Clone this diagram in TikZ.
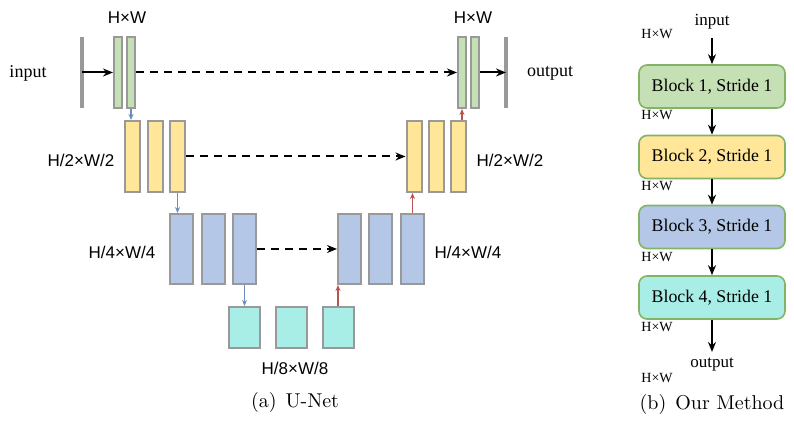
\documentclass[tikz,border=0pt]{standalone}
\usepackage{fontspec}
\newfontfamily\arialfont{Liberation Sans}
\newfontfamily\timesfont{Liberation Serif}
\usetikzlibrary{arrows.meta}
\definecolor{greenfill}{HTML}{C5E0B4}
\definecolor{yellowfill}{HTML}{FFE699}
\definecolor{bluefill}{HTML}{B4C7E7}
\definecolor{cyanfill}{HTML}{A9EEE6}
\definecolor{boxgray}{HTML}{999999}
\definecolor{blockgreen}{HTML}{82B366}
\definecolor{downblue}{HTML}{6C8EBF}
\definecolor{upred}{HTML}{B85450}
\tikzset{
	box/.style={draw=boxgray, line width=1pt, inner sep=0pt},
	gbox/.style={box, fill=greenfill, minimum width=4pt, minimum height=35.5pt},
	ybox/.style={box, fill=yellowfill, minimum width=7.5pt, minimum height=35.5pt},
	bbox/.style={box, fill=bluefill, minimum width=11.5pt, minimum height=35pt},
	cbox/.style={box, fill=cyanfill, minimum width=15.5pt, minimum height=20.5pt},
	block/.style={draw=blockgreen, line width=0.8pt, rounded corners=4pt, minimum width=73pt, minimum height=21.5pt, inner sep=0pt, font=\timesfont\fontsize{8.9}{11}\selectfont},
	bar/.style={line width=1.6pt, draw=boxgray},
	sizelbl/.style={font=\arialfont\fontsize{8.5}{10}\selectfont},
	smalllbl/.style={font=\timesfont\fontsize{7}{8}\selectfont},
	iolbl/.style={font=\timesfont\fontsize{9}{10}\selectfont},
	mainarrow/.style={line width=1pt, -{Stealth[length=5pt, width=4pt]}},
	skiparrow/.style={line width=1pt, dash pattern=on 4pt off 3pt, -{Stealth[length=5pt, width=4pt]}},
	downarrow/.style={line width=0.8pt, draw=downblue, -{Stealth[length=3pt, width=2.5pt]}},
	uparrow/.style={line width=0.8pt, draw=upred, -{Stealth[length=3pt, width=2.5pt]}}
}

\begin{document}
\begin{tikzpicture}[x=0.5pt, y=-0.5pt]
			%%%%% START %%%%%
			\useasboundingbox (0, 0) rectangle (794, 421);
			
			% (a) U-Net, encoder
			\draw[bar] (82, 37) -- (82, 108);
			\coordinate (inbar) at (82, 72.5);
			\node[iolbl] (inlbl) at (28, 73) {input};
			\node[gbox] (g1) at (118, 72.5) {};
			\node[gbox] (g2) at (131, 72.5) {};
			\node[sizelbl] (s1) at (127, 18) {H×W};
			
			\node[ybox] (ly1) at (132.5, 156.5) {};
			\node[ybox] (ly2) at (155.5, 156.5) {};
			\node[ybox] (ly3) at (177.5, 156.5) {};
			\node[sizelbl] (s2) at (81, 160) {H/2×W/2};
			
			\node[bbox] (lb1) at (181.5, 249) {};
			\node[bbox] (lb2) at (213, 249) {};
			\node[bbox] (lb3) at (244.5, 249) {};
			\node[sizelbl] (s3) at (122, 252) {H/4×W/4};
			
			\node[cbox] (c1) at (244.5, 327.5) {};
			\node[cbox] (c2) at (291.5, 327.5) {};
			\node[cbox] (c3) at (338, 327.5) {};
			\node[sizelbl] (s4) at (295, 368) {H/8×W/8};
			
			% (a) U-Net, decoder
			\node[bbox] (rb1) at (349.5, 249) {};
			\node[bbox] (rb2) at (380.5, 249) {};
			\node[bbox] (rb3) at (412.5, 249) {};
			\node[sizelbl] (s5) at (468, 252) {H/4×W/4};
			
			\node[ybox] (ry1) at (414, 156.5) {};
			\node[ybox] (ry2) at (436, 156.5) {};
			\node[ybox] (ry3) at (458.5, 156.5) {};
			\node[sizelbl] (s6) at (510, 160) {H/2×W/2};
			
			\node[gbox] (rg1) at (462, 72.5) {};
			\node[gbox] (rg2) at (475, 72.5) {};
			\node[sizelbl] (s7) at (473, 18) {H×W};
			\draw[bar] (506, 37) -- (506, 108);
			\coordinate (outbar) at (506, 72.5);
			\node[iolbl] (outlbl) at (550, 73) {output};
			
			% connections
			\draw[mainarrow] (inbar) -- (g1.west);
			\draw[mainarrow] (rg2.east) -- (outbar);
			\draw[skiparrow] (g2.east) -- (rg1.west);
			\draw[skiparrow] (ly3.east) -- (ry1.west);
			\draw[skiparrow] (lb3.east) -- (rb1.west);
			
			\draw[downarrow] (g2.south) -- (g2.south |- ly1.north);
			\draw[downarrow] (ly3.south) -- (ly3.south |- lb1.north);
			\draw[downarrow] (lb3.south) -- (c1.north);
			\draw[uparrow] (c3.north) -- (c3.north |- rb1.south);
			\draw[uparrow] (rb3.north) -- (rb3.north |- ry1.south);
			\draw[uparrow] (rg1.south |- ry3.north) -- (rg1.south);
			
			\node (capa) at (295, 403) {(a)\hspace{0.45em}U-Net};
			
			% (b) Our Method
			\node[iolbl, font=\timesfont\fontsize{8.5}{10}\selectfont, inner sep=4pt] (min) at (712, 22) {input};
			\node[block, fill=greenfill] (blk1) at (712, 86.5) {Block 1, Stride 1};
			\node[block, fill=yellowfill] (blk2) at (712, 157) {Block 2, Stride 1};
			\node[block, fill=bluefill] (blk3) at (712, 227) {Block 3, Stride 1};
			\node[block, fill=cyanfill] (blk4) at (712, 297.5) {Block 4, Stride 1};
			\node[iolbl, font=\timesfont\fontsize{8.5}{10}\selectfont, inner sep=3pt] (mout) at (712, 365) {output};
			
			\node[smalllbl] (h1) at (657, 34) {H×W};
			\node[smalllbl] (h2) at (657, 115) {H×W};
			\node[smalllbl] (h3) at (657, 186) {H×W};
			\node[smalllbl] (h4) at (657, 257) {H×W};
			\node[smalllbl] (h5) at (657, 327) {H×W};
			\node[smalllbl] (h6) at (657, 378) {H×W};
			
			\draw[mainarrow] (min.south) -- (blk1.north);
			\draw[mainarrow] (blk1.south) -- (blk2.north);
			\draw[mainarrow] (blk2.south) -- (blk3.north);
			\draw[mainarrow] (blk3.south) -- (blk4.north);
			\draw[mainarrow] (blk4.south) -- (mout.north);
			
			\node (capb) at (712, 405) {(b)\hspace{0.45em}Our Method};
			
			%%%%% END %%%%%
\end{tikzpicture}
\end{document}
